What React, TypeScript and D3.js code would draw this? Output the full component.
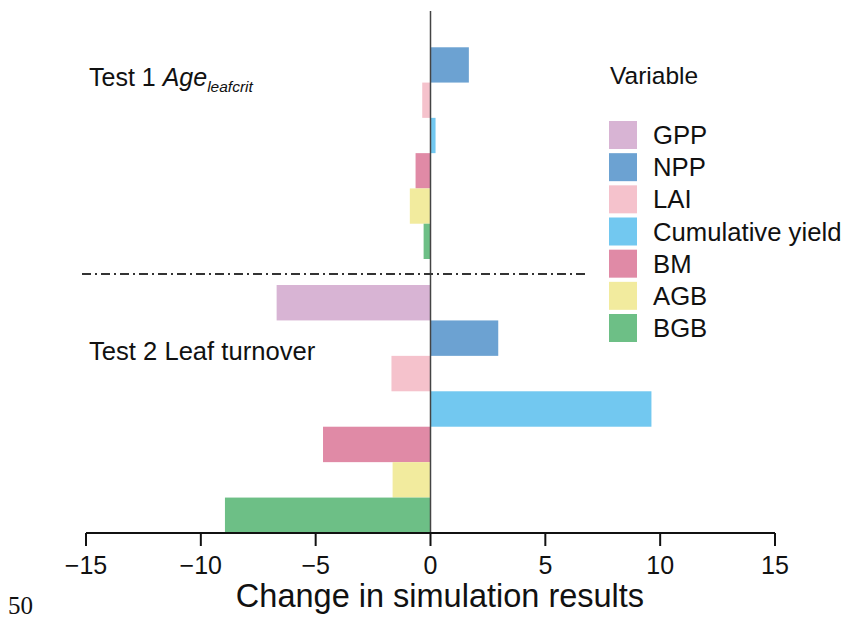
import React from "react";
import * as d3 from "d3";

// Variables, in plotting order within each test
const variables = ["GPP", "NPP", "LAI", "Cumulative yield", "BM", "AGB", "BGB"];
const colors = ["#d8b4d4", "#6ca2d2", "#f5c2cc", "#72c8f0", "#e08aa6", "#f2eb9e", "#6dbf86"];

// Change in simulation results per variable
const test1Values = [0, 1.67, -0.36, 0.22, -0.65, -0.9, -0.3];
const test2Values = [-6.7, 2.95, -1.7, 9.62, -4.68, -1.65, -8.95];

const xTicks = [-15, -10, -5, 0, 5, 10, 15];

const W = 845;
const H = 618;
const FONT = "Arial, 'Liberation Sans', Helvetica, sans-serif";

export default function App() {
  const x = d3.scaleLinear().domain([-15, 15]).range([86, 775]);
  const y1 = d3.scaleBand<string>().domain(variables).range([12, 259]).padding(0);
  const y2 = d3.scaleBand<string>().domain(variables).range([285, 533]).padding(0);
  const axisY = 533;
  const fmt = (v: number) => (v < 0 ? "\u2212" + Math.abs(v) : String(v));

  const bars = (vals: number[], y: d3.ScaleBand<string>, key: string) =>
    vals.map((v, i) => (
      <rect
        key={key + i}
        x={Math.min(x(0), x(v))}
        y={y(variables[i])}
        width={Math.abs(x(v) - x(0))}
        height={y.bandwidth()}
        fill={colors[i]}
      />
    ));

  const legendY = d3.scaleLinear().domain([0, 6]).range([135, 328]);

  return (
    <svg width={W} height={H} style={{ position: "absolute", left: 0, top: 0, background: "#fff" }} fontFamily={FONT}>
      {bars(test1Values, y1, "a")}
      {bars(test2Values, y2, "b")}

      {/* zero reference line */}
      <line x1={x(0)} x2={x(0)} y1={11} y2={axisY} stroke="#444" strokeWidth={1.5} />

      {/* separator between tests */}
      <line
        x1={82}
        x2={587}
        y1={274}
        y2={274}
        stroke="#333"
        strokeWidth={2}
        strokeDasharray="9 4 2 4"
      />

      {/* x axis */}
      <line x1={x(-15)} x2={x(15)} y1={axisY} y2={axisY} stroke="#111" strokeWidth={2} />
      {xTicks.map((t) => (
        <g key={t}>
          <line x1={x(t)} x2={x(t)} y1={axisY} y2={axisY + 13} stroke="#111" strokeWidth={2} />
          <text x={x(t)} y={574} textAnchor="middle" fontSize={25} fill="#111">
            {fmt(t)}
          </text>
        </g>
      ))}
      <text x={440} y={607} textAnchor="middle" fontSize={32.5} fill="#111">
        Change in simulation results
      </text>

      {/* test labels */}
      <text x={89} y={86} fontSize={25} fill="#111">
        Test 1 <tspan fontStyle="italic">Age</tspan>
        <tspan fontStyle="italic" fontSize={15.5} dy={6}>leafcrit</tspan>
      </text>
      <text x={89} y={360} fontSize={25.6} fill="#111">
        Test 2 Leaf turnover
      </text>

      {/* legend */}
      <text x={610} y={84} fontSize={24.5} fill="#111">
        Variable
      </text>
      {variables.map((v, i) => (
        <g key={v}>
          <rect x={609} y={legendY(i) - 14} width={28} height={28} fill={colors[i]} />
          <text x={653} y={legendY(i) + 9} fontSize={25.7} fill="#111">
            {v}
          </text>
        </g>
      ))}

      <text x={8} y={614} fontSize={25} fontFamily="'Times New Roman', 'Liberation Serif', serif" fill="#111">
        50
      </text>
    </svg>
  );
}
